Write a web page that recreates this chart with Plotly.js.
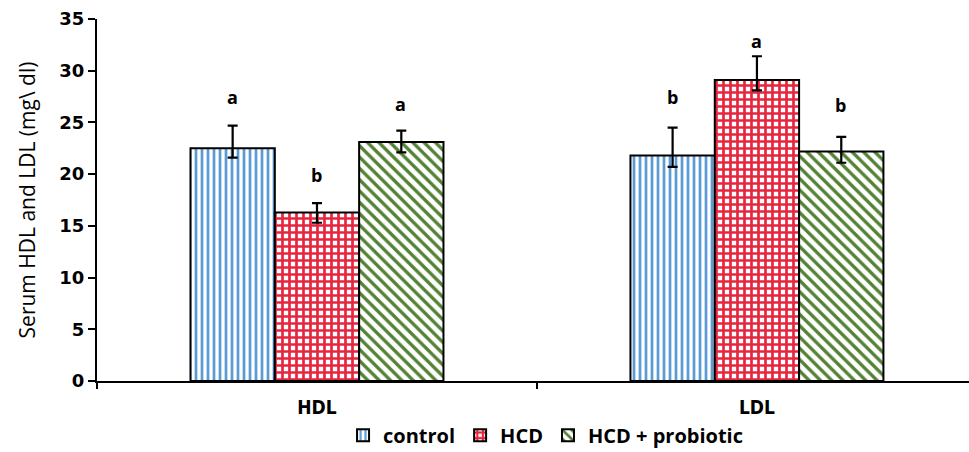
<!DOCTYPE html>
<html>
<head>
<meta charset="utf-8">
<script src="https://cdn.plot.ly/plotly-3.0.1.min.js"></script>
<style>html,body{margin:0;padding:0;background:#fff;}#chart{width:969px;height:452px;}</style>
</head>
<body>
<div id="chart"></div>
<script>
// Data
const categories = ["HDL", "LDL"];
const seriesNames = ["control", "HCD", "HCD + probiotic"];
const controlValues = [22.5, 21.8];
const hcdValues = [16.3, 29.1];
const probioticValues = [23.1, 22.2];
const controlErrPlus = [2.2, 2.7];
const controlErrMinus = [0.9, 1.1];
const hcdErrPlus = [0.9, 2.3];
const hcdErrMinus = [1.0, 1.0];
const probioticErrPlus = [1.1, 1.4];
const probioticErrMinus = [1.0, 1.1];
const controlLetters = ["a", "b"];
const hcdLetters = ["b", "a"];
const probioticLetters = ["a", "b"];
const controlLetterY = [27.5, 27.5];
const hcdLetterY = [19.9, 32.9];
const probioticLetterY = [26.8, 26.7];
const yTicks = [0, 5, 10, 15, 20, 25, 30, 35];

const colors = ["#5b9bd5", "#e6263f", "#548235"];
const patterns = [
  {shape: "|", size: 6, solidity: 0.45},
  {shape: "+", size: 7, solidity: 0.62},
  {shape: "\\", size: 8, solidity: 0.42}
];
const values = [controlValues, hcdValues, probioticValues];
const errPlus = [controlErrPlus, hcdErrPlus, probioticErrPlus];
const errMinus = [controlErrMinus, hcdErrMinus, probioticErrMinus];
const letters = [controlLetters, hcdLetters, probioticLetters];
const letterY = [controlLetterY, hcdLetterY, probioticLetterY];

const traces = seriesNames.map((name, i) => ({
  type: "bar",
  name: name,
  x: categories,
  y: values[i],
  marker: {
    color: "#ffffff",
    line: {color: "#000000", width: 2},
    pattern: Object.assign({fgcolor: colors[i], bgcolor: "#ffffff", fillmode: "replace"}, patterns[i])
  },
  error_y: {
    type: "data", symmetric: false,
    array: errPlus[i], arrayminus: errMinus[i],
    color: "#000000", thickness: 2.2, width: 5
  }
}));

const annotations = [];
const shifts = [-84, 0, 84];
for (let i = 0; i < 3; i++) {
  for (let j = 0; j < categories.length; j++) {
    annotations.push({
      x: j, y: letterY[i][j], xref: "x", yref: "y",
      text: "<b>" + letters[i][j] + "</b>",
      showarrow: false, xshift: shifts[i],
      font: {family: "Open Sans, sans-serif", size: 18, color: "#000"}
    });
  }
}

const layout = {
  width: 969, height: 452,
  margin: {l: 97, r: 0, t: 19, b: 71},
  paper_bgcolor: "#fff", plot_bgcolor: "#fff",
  barmode: "group", bargap: 0.425, bargroupgap: 0,
  showlegend: true,
  legend: {
    orientation: "h", xref: "container", yref: "container",
    x: 0.563, xanchor: "center", y: 0.08, yanchor: "top",
    font: {family: "Open Sans, sans-serif", size: 20, color: "#000", weight: "bold"},
    traceorder: "normal", itemwidth: 30
  },
  xaxis: {
    type: "category", range: [-0.5, 1.482], automargin: false,
    showline: true, linecolor: "#000", linewidth: 2,
    ticks: "outside", tickson: "boundaries", ticklen: 6, tickwidth: 2, tickcolor: "#000",
    ticklabelstandoff: 8,
    showgrid: false, zeroline: false,
    tickfont: {family: "DejaVu Sans Condensed, Liberation Sans Narrow, Arial, sans-serif", size: 19, color: "#000", weight: "bold"}
  },
  yaxis: {
    range: [0, 35], tickvals: yTicks, automargin: false,
    showline: true, linecolor: "#000", linewidth: 2,
    ticks: "outside", ticklen: 7, tickwidth: 2, tickcolor: "#000",
    showgrid: false, zeroline: false,
    tickfont: {family: "DejaVu Sans, sans-serif", size: 18, color: "#000", weight: "bold"},
    title: {text: "Serum HDL and LDL (mg\\ dl)", standoff: 18,
      font: {family: "Open Sans, Noto Sans, sans-serif", size: 21, color: "#000"}}
  },
  annotations: annotations
};

Plotly.newPlot("chart", traces, layout, {displayModeBar: false, staticPlot: true});
</script>
</body>
</html>
